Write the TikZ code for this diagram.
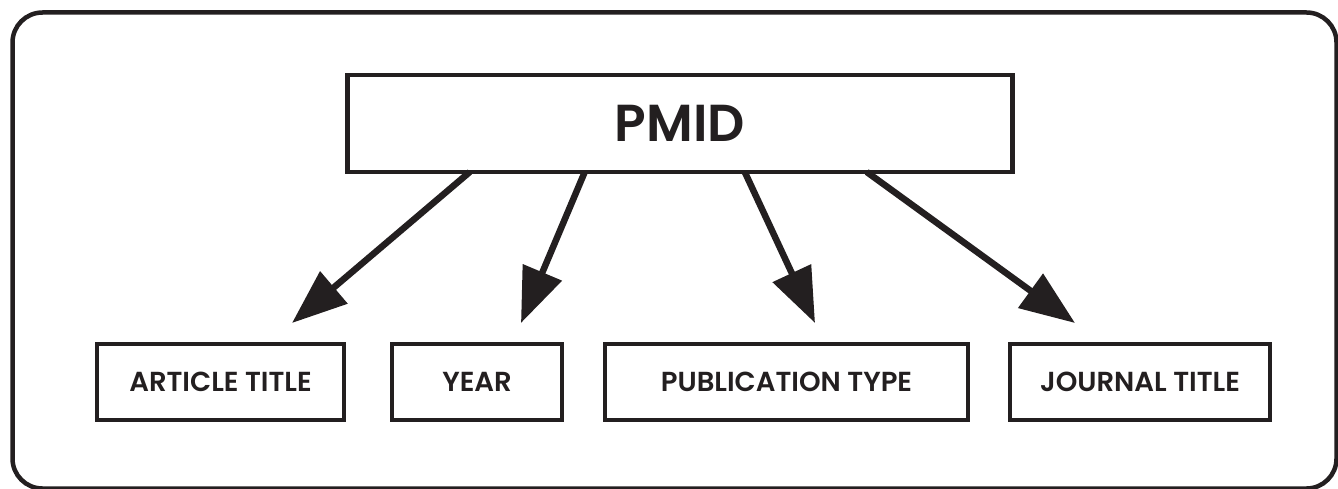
\documentclass[tikz,border=0pt]{standalone}
\usepackage{fontspec}
\setmainfont{Poppins}[BoldFont={Poppins SemiBold}]
\usetikzlibrary{arrows.meta,calc}
\definecolor{ink}{HTML}{231F20}
\begin{document}
\begin{tikzpicture}[x=1pt,y=-1pt,
  box/.style={draw=ink, line width=4.5pt, inner sep=0pt, outer sep=0pt, text=ink,
    minimum height=76pt, font=\bfseries\fontsize{27.5}{30}\selectfont},
  bigbox/.style={draw=ink, line width=4.5pt, inner sep=0pt, outer sep=0pt, text=ink,
    minimum width=665pt, minimum height=97pt, font=\bfseries\fontsize{52}{60}\selectfont},
  conn/.style={draw=ink, line width=6.5pt, -{Triangle[length=55pt,width=41pt]}}]
\useasboundingbox (0,0) rectangle (1338,489);
\draw[ink, line width=4.5pt, rounded corners=30pt] (12.5,12.5) rectangle (1336.5,488.5);
\node[bigbox] (pmid) at (679.75,123.5) {PMID};
\node[box, minimum width=247pt] (art) at (220.5,382) {ARTICLE TITLE};
\node[box, minimum width=170pt] (year) at (477,382) {YEAR};
\node[box, minimum width=363pt] (pub) at (786.5,382) {PUBLICATION TYPE};
\node[box, minimum width=260pt] (jour) at (1140,382) {JOURNAL TITLE};
\coordinate (s1) at ($(pmid.south west)+(122.5,0)$);
\coordinate (s2) at ($(pmid.south west)+(237.5,0)$);
\coordinate (s3) at ($(pmid.south west)+(397.5,0)$);
\coordinate (s4) at ($(pmid.south west)+(519.5,0)$);
\coordinate (t1) at ($(art.north)+(71.5,-21)$);
\coordinate (t2) at ($(year.north)+(44,-21)$);
\coordinate (t3) at ($(pub.north)+(28.5,-21)$);
\coordinate (t4) at ($(jour.north)+(-65,-21)$);
\draw[conn] (s1) -- (t1);
\draw[conn] (s2) -- (t2);
\draw[conn] (s3) -- (t3);
\draw[conn] (s4) -- (t4);
\end{tikzpicture}
\end{document}
